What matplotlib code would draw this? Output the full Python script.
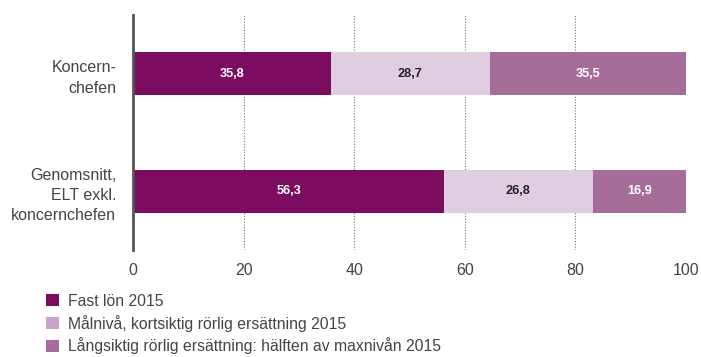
import matplotlib
matplotlib.use("Agg")
import matplotlib.pyplot as plt
from matplotlib.patches import Patch
import numpy as np

categories = ["Koncern-\nchefen", "Genomsnitt,\nELT exkl.\nkoncernchefen"]
series_names = ["Fast lön 2015",
                "Målnivå, kortsiktig rörlig ersättning 2015",
                "Långsiktig rörlig ersättning: hälften av maxnivån 2015"]
fast = [35.8, 56.3]
malniva = [28.7, 26.8]
langsiktig = [35.5, 16.9]
xticks = [0, 20, 40, 60, 80, 100]

bar_colors = ["#7B0C60", "#DFCDE0", "#A66C9A"]
legend_colors = ["#7B0C60", "#C9A3C8", "#A66C9A"]
label_colors = ["white", "#222222", "white"]

plt.rcParams['font.family'] = ['Liberation Sans', 'DejaVu Sans']

fig = plt.figure(figsize=(7.01, 3.57), dpi=100)
ax = fig.add_axes([0.1897, 0.2997, 0.9786 - 0.1897, 0.958 - 0.2997])

y = np.arange(len(categories))
left = np.zeros(len(categories))
for vals, col, lc in zip([fast, malniva, langsiktig], bar_colors, label_colors):
    ax.barh(y, vals, left=left, height=0.365, color=col, zorder=3)
    for yi, v, l in zip(y, vals, left):
        ax.text(l + v / 2, yi, f"{v:.1f}".replace(".", ","), ha="center", va="center",
                color=lc, fontsize=9.2, fontweight="bold", zorder=4)
    left = left + np.array(vals)

ax.set_xlim(0, 100)
ax.set_ylim(1.5, -0.5)
ax.set_yticks(y)
ax.set_yticklabels(categories, fontsize=11.5, color="#444444", linespacing=1.45)
ax.set_xticks(xticks)
ax.set_xticklabels([str(t) for t in xticks], fontsize=11.5, color="#444444")
ax.tick_params(axis="x", length=0, pad=9)
ax.tick_params(axis="y", length=0, pad=12)

for t in xticks[1:]:
    ax.axvline(t, color="#777777", linestyle=(0, (1, 1.5)), linewidth=0.8, zorder=1)

for s in ["top", "right", "bottom"]:
    ax.spines[s].set_visible(False)
ax.spines["left"].set_color("#555555")
ax.spines["left"].set_linewidth(2)
ax.spines["left"].set_zorder(5)

handles = [Patch(facecolor=c, edgecolor="none") for c in legend_colors]
fig.legend(handles, series_names, loc="upper left", bbox_to_anchor=(0.057, 0.195),
           frameon=False, fontsize=11.3, handlelength=0.8, handleheight=0.8,
           handletextpad=0.6, labelspacing=0.38, borderaxespad=0, labelcolor="#444444")

fig.savefig("out.png", dpi=100)
